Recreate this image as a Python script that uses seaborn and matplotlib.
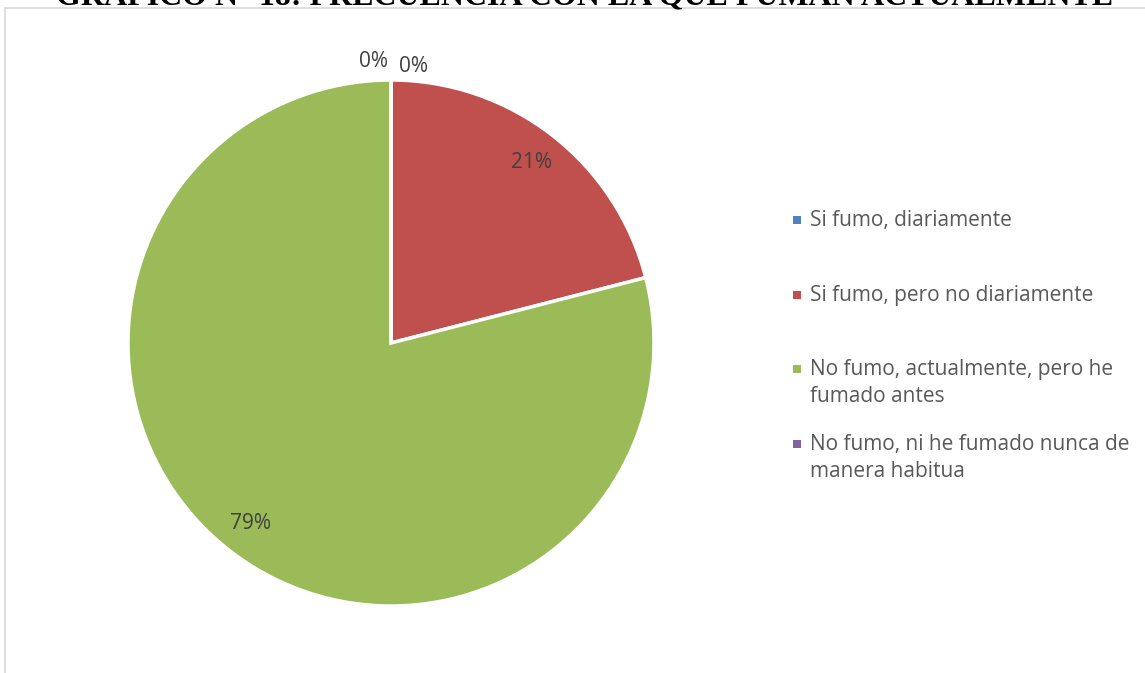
import numpy as np
import pandas as pd
import matplotlib
matplotlib.use("Agg")
import matplotlib.pyplot as plt
from matplotlib.patches import Rectangle
import seaborn as sns

# Frecuencia de consumo de tabaco (porcentaje de encuestados)
categorias = [
    "Si fumo, diariamente",
    "Si fumo, pero no diariamente",
    "No fumo, actualmente, pero he\nfumado antes",
    "No fumo, ni he fumado nunca de\nmanera habitua",
]
porcentajes = [0, 21, 79, 0]
colores = ["#4F81BD", "#C0504D", "#9BBB59", "#8064A2"]
titulo = "GRÁFICO N° 18: FRECUENCIA CON LA QUE FUMAN ACTUALMENTE"

df = pd.DataFrame({"categoria": categorias, "pct": porcentajes})

sns.set_theme(style="white")
plt.rcParams["font.family"] = ["Open Sans", "DejaVu Sans"]

W, H = 1145, 673
fig = plt.figure(figsize=(W / 100, H / 100), dpi=100)
fig.patch.set_facecolor("white")

# chart area frame
fig.patches.append(Rectangle((5 / W, -0.05), 1.2, 1 - 8 / H + 0.05,
                             transform=fig.transFigure, fill=False,
                             edgecolor="#d9d9d9", linewidth=1.2, zorder=0))

# title (partly above the page edge)
fig.text(585 / W, 1 - 5 / H, titulo, ha="center", va="baseline",
         fontsize=23, fontweight="bold", family="Liberation Serif",
         color="black")

# pie
cx, cy, r = 391, 343, 263
ax = fig.add_axes([(cx - r) / W, (H - cy - r) / H, 2 * r / W, 2 * r / H])
wedges, _ = ax.pie(df["pct"], colors=colores, startangle=90,
                   counterclock=False, radius=1,
                   wedgeprops=dict(edgecolor="white", linewidth=2.5))
ax.set_xlim(-1, 1)
ax.set_ylim(-1, 1)
ax.set_aspect("equal")
ax.axis("off")

# data labels
total = df["pct"].sum()
acum = 0.0
for i, v in enumerate(df["pct"]):
    mid = 90 - (acum + v / 2) / total * 360
    acum += v
    th = np.deg2rad(mid)
    if v == 0:
        dx = 0.085 if i == 0 else -0.065
        x, y = np.cos(th) * 1.07 + dx, np.sin(th) * 1.07
        if i == 0:
            y -= 0.02
    else:
        x, y = np.cos(th) * 0.87, np.sin(th) * 0.87
    ax.text(x, y, f"{v:.0f}%", ha="center", va="center", fontsize=15,
            color="#404040", clip_on=False)

# legend: evenly spaced entries, marker aligned with the first line
leg_x = 797 / W
for i, (lab, col) in enumerate(zip(categorias, colores)):
    base = 226 + 74.7 * i
    fig.patches.append(Rectangle((leg_x - 4 / W, 1 - (base - 2) / H), 8 / W, 8 / H,
                                 transform=fig.transFigure, facecolor=col,
                                 edgecolor="none"))
    for j, linea in enumerate(lab.split("\n")):
        fig.text(810 / W, 1 - (base + 27 * j) / H, linea, ha="left",
                 va="baseline", fontsize=15, color="#595959")

fig.savefig("out.png", dpi=100)
